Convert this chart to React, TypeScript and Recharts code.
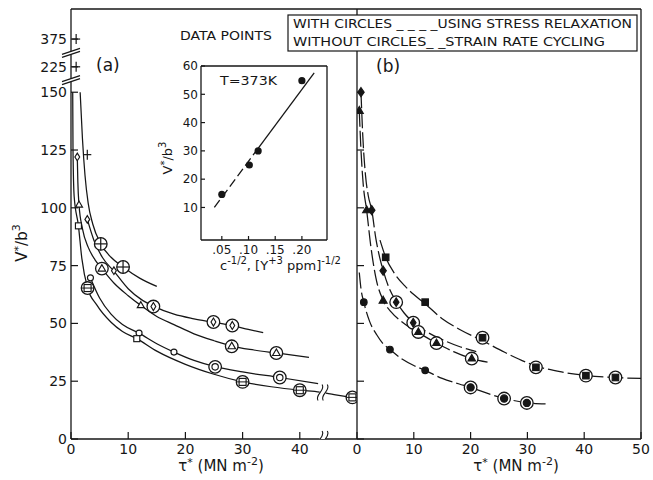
import React from 'react';
import { ComposedChart, Line, Scatter, XAxis, YAxis, ReferenceLine, ReferenceDot } from 'recharts';

const INK = '#161616';
const FONT = 'DejaVu Sans, sans-serif';

// ---------- tick labels ----------
const yTickValues = [0, 25, 50, 75, 100, 125, 150, 225, 375];
const yAxisBreaks = [186, 300];
const xTicksA = [0, 10, 20, 30, 40];
const xTicksB = [0, 10, 20, 30, 40, 50];
const insetXTicks = [0.05, 0.1, 0.15, 0.2];
const insetXTickLabels = ['.05', '.10', '.15', '.20'];
const insetYTicks = [10, 20, 30, 40, 50, 60];

// ---------- panel (a) curves ----------
const curveA1 = [[1.6, 150], [2.0, 130], [2.45, 114], [3.0, 102], [3.8, 93], [5.2, 84.4], [7, 78.6], [9.1, 74.4], [12, 69.6], [15, 66]];
const curveA2 = [[2.85, 95], [4, 86], [5.5, 78.5], [7.5, 72.6], [10, 65], [12.2, 60.5], [14.4, 57.5], [18, 54], [21.5, 52], [24.9, 50.5], [28.2, 49], [31, 47.4], [33.6, 46]];
const curveA3 = [[1.1, 122], [1.2, 111], [1.4, 101.3], [2, 91], [3, 83], [4.2, 77.5], [5.4, 73.7], [7.5, 67.5], [10, 62], [12.2, 57.8], [15, 53], [18, 49.5], [21.5, 45.5], [25, 42.5], [28.1, 40.2], [32, 38.5], [35.9, 37.2], [41.6, 35.3]];
const curveA4 = [[3.4, 69.7], [5, 61], [7, 54], [9, 49.5], [11.9, 45.8], [15, 41.2], [18, 37.6], [21.5, 34], [25.2, 31.3], [30, 29], [36.5, 26.6], [43.2, 24]];
const curveA5 = [[0.3, 150], [0.35, 125], [0.55, 105], [1.3, 92.2], [1.9, 78], [2.9, 65.3], [4.5, 58], [7, 50.5], [9, 46.5], [11.5, 43.4], [15, 38], [20, 32.3], [25, 28], [30, 24.7], [35, 22.6], [40, 21.1], [43.5, 20.3], [46, 19.2], [49, 18]];

// ---------- panel (a) points ----------
const aPlus = [[0.9, 375], [0.9, 225], [2.85, 123]];
const aCirclePlus = [[5.2, 84.4], [9.1, 74.4]];
const aDiamond = [[1.1, 122], [2.85, 95], [7.5, 72.8]];
const aCircleDiamond = [[14.4, 57.3], [24.9, 50.6], [28.2, 49.1]];
const aTriangle = [[1.4, 101.3], [12.2, 57.8]];
const aCircleTriangle = [[5.4, 73.7], [28.1, 40.1], [35.9, 37.2]];
const aDot = [[3.4, 69.7], [11.9, 45.8], [18, 37.6]];
const aCircleDot = [[25.2, 31.2], [36.5, 26.6]];
const aSquare = [[1.3, 92.2], [11.5, 43.4]];
const aCircleSquare = [[2.9, 65.3], [30, 24.7], [40, 21.1], [49.2, 18]];
const aXBreaks = [[44, 0], [44, 20.1]];

// ---------- panel (b) curves ----------
const curveB1 = [[4.05, 86], [5.05, 78.6], [6.5, 72], [8.5, 66], [10, 62.5], [12, 58.5], [15, 52], [18, 47.5], [22.1, 42.5], [26, 37.5], [31.5, 31.6], [36, 29], [40.3, 27.5], [45.5, 26.6], [50, 26.2]];
const curveB2 = [[0.7, 150], [1.0, 132], [1.5, 114], [2.0, 105], [2.6, 99], [3.3, 87], [4.0, 78.5], [4.6, 73], [5.7, 65], [6.9, 59.5], [8.3, 54.5], [9.9, 50.5], [12, 46.8], [15, 43], [18, 40], [21, 37.8]];
const curveB3 = [[0.4, 142], [0.7, 125], [1.1, 110], [1.7, 99], [2.4, 84], [3.3, 70], [4.6, 60], [6, 55], [8, 50.5], [10.8, 46], [14, 41.5], [17, 37.8], [20.2, 34.8], [23, 33.2]];
const curveB4 = [[0.4, 72], [0.7, 65], [1.2, 59.2], [2.2, 51], [3.5, 45], [4.5, 41.5], [5.8, 38.7], [8, 34.5], [10, 31.8], [12, 29.7], [15, 26.2], [18, 23.8], [20, 22.3], [23, 19.7], [25.9, 17.6], [29.9, 15.7], [33.2, 15.2]];

// ---------- panel (b) points ----------
const bTriangle = [[0.4, 142], [1.7, 99], [4.6, 59.9]];
const bDiamond = [[0.7, 150], [2.6, 99], [4.6, 72.8]];
const bSquare = [[5.05, 78.6], [12, 59.2]];
const bDot = [[1.2, 59.2], [5.8, 38.7], [12, 29.7]];
const bCircleDiamond = [[6.9, 59.2], [9.9, 50.3]];
const bCircleTriangle = [[10.8, 46.3], [14, 41.5], [20.2, 34.8]];
const bCircleSquare = [[22.1, 43.8], [31.5, 31], [40.3, 27.4], [45.5, 26.6]];
const bCircleDot = [[20, 22.3], [25.9, 17.5], [29.9, 15.6]];

// ---------- inset ----------
const insetPoints = [[0.05, 14.6], [0.1015, 25], [0.118, 30], [0.2, 54.8]];
const insetFitDashed = [[0.036, 10], [0.118, 30.9]];
const insetFitSolid = [[0.118, 30.9], [0.223, 57.6]];

// broken y axis: 150..225 and 225..375 compressed
const yBreak = (v: number) =>
  v <= 150 ? v : v <= 225 ? 150 + ((v - 150) * 11) / 75 : 161 + ((v - 225) * 12) / 150;
const toPts = (a: number[][]) => a.map(([x, y]) => ({ x, y: yBreak(y) }));
const toRaw = (a: number[][]) => a.map(([x, y]) => ({ x, y }));

const SW = 1.15;
const tri = (cx: number, cy: number, s: number, fill: string) => {
  const h = s * 0.866;
  return (
    <polygon
      points={`${cx},${cy - h * 0.62} ${cx - s / 2},${cy + h * 0.38} ${cx + s / 2},${cy + h * 0.38}`}
      fill={fill}
      stroke={INK}
      strokeWidth={SW}
    />
  );
};
const dia = (cx: number, cy: number, w: number, h: number, fill: string) => (
  <polygon points={`${cx},${cy - h} ${cx + w},${cy} ${cx},${cy + h} ${cx - w},${cy}`} fill={fill} stroke={INK} strokeWidth={SW} />
);
const sq = (cx: number, cy: number, s: number, fill: string) => (
  <rect x={cx - s / 2} y={cy - s / 2} width={s} height={s} fill={fill} stroke={INK} strokeWidth={SW} />
);
const circ = (cx: number, cy: number, r: number, fill: string) => (
  <circle cx={cx} cy={cy} r={r} fill={fill} stroke={INK} strokeWidth={SW} />
);
const ring = (cx: number, cy: number) => <circle cx={cx} cy={cy} r={6.3} fill="#fff" stroke={INK} strokeWidth={1.3} />;

const marker = (kind: string) => (props: any) => {
  const { cx, cy } = props;
  if (cx == null || cy == null) return <g />;
  switch (kind) {
    case 'plus':
      return (
        <g stroke={INK} strokeWidth={1.2}>
          <line x1={cx - 4} y1={cy} x2={cx + 4} y2={cy} />
          <line x1={cx} y1={cy - 5} x2={cx} y2={cy + 5} />
        </g>
      );
    case 'circlePlus':
      return (
        <g>
          {ring(cx, cy)}
          <g stroke={INK} strokeWidth={1.2}>
            <line x1={cx - 6.3} y1={cy} x2={cx + 6.3} y2={cy} />
            <line x1={cx} y1={cy - 6.3} x2={cx} y2={cy + 6.3} />
          </g>
        </g>
      );
    case 'diamond':
      return dia(cx, cy, 2.4, 3.8, '#fff');
    case 'circleDiamond':
      return <g>{ring(cx, cy)}{dia(cx, cy, 2.4, 4, '#fff')}</g>;
    case 'triangle':
      return tri(cx, cy, 7, '#fff');
    case 'circleTriangle':
      return <g>{ring(cx, cy)}{tri(cx, cy, 7.5, '#fff')}</g>;
    case 'dot':
      return circ(cx, cy, 3, '#fff');
    case 'circleDot':
      return <g>{ring(cx, cy)}{circ(cx, cy, 3.2, '#fff')}</g>;
    case 'square':
      return sq(cx, cy, 6, '#fff');
    case 'circleSquare':
      return (
        <g>
          {ring(cx, cy)}
          {sq(cx, cy, 7, '#fff')}
          <line x1={cx - 6.3} y1={cy} x2={cx + 6.3} y2={cy} stroke={INK} strokeWidth={1} />
        </g>
      );
    case 'fTriangle':
      return tri(cx, cy, 8, INK);
    case 'fDiamond':
      return dia(cx, cy, 3.2, 4.6, INK);
    case 'fSquare':
      return sq(cx, cy, 6.5, INK);
    case 'fCircle':
      return circ(cx, cy, 3.3, INK);
    case 'cfTriangle':
      return <g>{ring(cx, cy)}{tri(cx, cy, 7.5, INK)}</g>;
    case 'cfDiamond':
      return <g>{ring(cx, cy)}{dia(cx, cy, 2.8, 4.4, INK)}</g>;
    case 'cfSquare':
      return <g>{ring(cx, cy)}{sq(cx, cy, 6.5, INK)}</g>;
    case 'cfCircle':
      return <g>{ring(cx, cy)}{circ(cx, cy, 3.6, INK)}</g>;
    case 'insetDot':
      return <circle cx={cx} cy={cy} r={3.6} fill={INK} />;
    case 'yBreak':
      return (
        <g>
          <polygon points={`${cx - 9},${cy + 4.5} ${cx + 9},${cy - 1.5} ${cx + 9},${cy - 4.5} ${cx - 9},${cy + 1.5}`} fill="#fff" />
          <line x1={cx - 9} y1={cy + 4.5} x2={cx + 9} y2={cy - 1.5} stroke={INK} strokeWidth={1.3} />
          <line x1={cx - 9} y1={cy + 1.5} x2={cx + 9} y2={cy - 4.5} stroke={INK} strokeWidth={1.3} />
        </g>
      );
    case 'xBreak':
      return (
        <g>
          <rect x={cx - 3} y={cy - 4} width={6} height={8} fill="#fff" />
          {[-2.6, 2.6].map((o) => (
            <path
              key={o}
              d={`M ${cx + o - 2},${cy + 8} C ${cx + o - 6},${cy + 2} ${cx + o + 6},${cy - 2} ${cx + o + 2},${cy - 8}`}
              fill="none"
              stroke={INK}
              strokeWidth={1.1}
            />
          ))}
        </g>
      );
    default:
      return <g />;
  }
};

const tickStyle = { fill: INK, fontSize: 14, fontFamily: FONT };
const axisLine = { stroke: INK, strokeWidth: 1.3 };
const tickLine = { stroke: INK, strokeWidth: 1.2 };

const yLabel = (v: number) => {
  const i = yTickValues.findIndex((t) => Math.abs(yBreak(t) - v) < 0.01);
  return i >= 0 ? String(yTickValues[i]) : '';
};

const curve = (d: number[][], key: string, dash?: string) => (
  <Line
    key={key}
    data={toPts(d)}
    dataKey="y"
    type="monotone"
    dot={false}
    activeDot={false}
    stroke={INK}
    strokeWidth={1.25}
    strokeDasharray={dash}
    isAnimationActive={false}
  />
);
const pts = (d: number[][], kind: string, key: string) => (
  <Scatter key={key} data={toPts(d)} shape={marker(kind)} isAnimationActive={false} />
);

const abs: React.CSSProperties = { position: 'absolute', left: 0, top: 0 };

export default function App() {
  return (
    <div style={{ position: 'absolute', left: 0, top: 0, width: 653, height: 480, background: '#fff', overflow: 'hidden' }}>
      {/* panel (a) */}
      <div style={abs}>
        <ComposedChart width={653} height={480} margin={{ top: 9, right: 296, bottom: 0, left: 0 }}>
          <XAxis type="number" dataKey="x" domain={[0, 50]} ticks={xTicksA} interval={0} height={41} tickSize={-7} tickMargin={12} axisLine={axisLine} tickLine={tickLine} tick={tickStyle} allowDataOverflow />
          <YAxis type="number" dataKey="y" domain={[0, 186]} ticks={yTickValues.map(yBreak)} interval={0} tickFormatter={yLabel} width={71} tickSize={-7} tickMargin={11} axisLine={axisLine} tickLine={tickLine} tick={tickStyle} allowDataOverflow />
          <ReferenceLine y={186} stroke={INK} strokeWidth={1.3} />
          {curve(curveA1, 'a1')}
          {curve(curveA2, 'a2')}
          {curve(curveA3, 'a3')}
          {curve(curveA4, 'a4')}
          {curve(curveA5, 'a5')}
          {pts(aPlus, 'plus', 'p1')}
          {pts(aCirclePlus, 'circlePlus', 'p2')}
          {pts(aDiamond, 'diamond', 'p3')}
          {pts(aCircleDiamond, 'circleDiamond', 'p4')}
          {pts(aTriangle, 'triangle', 'p5')}
          {pts(aCircleTriangle, 'circleTriangle', 'p6')}
          {pts(aDot, 'dot', 'p7')}
          {pts(aCircleDot, 'circleDot', 'p8')}
          {pts(aSquare, 'square', 'p9')}
          {pts(aCircleSquare, 'circleSquare', 'p10')}
          {pts(aXBreaks, 'xBreak', 'p11')}
          {yAxisBreaks.map((v) => (
            <ReferenceDot key={'yb' + v} x={0} y={yBreak(v)} r={1} ifOverflow="visible" shape={marker('yBreak')} />
          ))}
        </ComposedChart>
      </div>

      {/* panel (b) */}
      <div style={abs}>
        <ComposedChart width={653} height={480} margin={{ top: 9, right: 12, bottom: 0, left: 0 }}>
          <XAxis type="number" dataKey="x" domain={[0, 50]} ticks={xTicksB} interval={0} height={41} tickSize={-7} tickMargin={12} axisLine={axisLine} tickLine={tickLine} tick={tickStyle} allowDataOverflow />
          <YAxis type="number" dataKey="y" domain={[0, 186]} ticks={yTickValues.slice(0, 7)} interval={0} tickFormatter={() => ''} width={357} tickSize={-7} axisLine={axisLine} tickLine={tickLine} tick={tickStyle} allowDataOverflow />
          <ReferenceLine y={186} stroke={INK} strokeWidth={1.3} />
          <ReferenceLine x={50} stroke={INK} strokeWidth={1.3} />
          {curve(curveB1, 'b1', '16 4')}
          {curve(curveB2, 'b2', '16 4')}
          {curve(curveB3, 'b3', '16 4')}
          {curve(curveB4, 'b4', '16 4')}
          {pts(bTriangle, 'fTriangle', 'q1')}
          {pts(bDiamond, 'fDiamond', 'q2')}
          {pts(bSquare, 'fSquare', 'q3')}
          {pts(bDot, 'fCircle', 'q4')}
          {pts(bCircleDiamond, 'cfDiamond', 'q5')}
          {pts(bCircleTriangle, 'cfTriangle', 'q6')}
          {pts(bCircleSquare, 'cfSquare', 'q7')}
          {pts(bCircleDot, 'cfCircle', 'q8')}
        </ComposedChart>
      </div>

      {/* inset */}
      <div style={abs}>
        <ComposedChart width={653} height={480} margin={{ top: 66, right: 326, bottom: 210, left: 161 }}>
          <XAxis type="number" dataKey="x" domain={[0.011, 0.247]} ticks={insetXTicks} interval={0} tickFormatter={(v: number) => insetXTickLabels[insetXTicks.findIndex((t) => Math.abs(t - v) < 1e-6)] ?? ''} height={30} tickSize={-4} tickMargin={9} axisLine={axisLine} tickLine={tickLine} tick={{ ...tickStyle, fontSize: 12 }} allowDataOverflow />
          <YAxis type="number" dataKey="y" domain={[-1.5, 60]} ticks={insetYTicks} interval={0} width={40} tickSize={-4} tickMargin={7} axisLine={axisLine} tickLine={tickLine} tick={{ ...tickStyle, fontSize: 12 }} allowDataOverflow />
          <ReferenceLine y={60} stroke={INK} strokeWidth={1.3} />
          <ReferenceLine x={0.247} stroke={INK} strokeWidth={1.3} />
          <Line data={toRaw(insetFitDashed)} dataKey="y" type="linear" dot={false} activeDot={false} stroke={INK} strokeWidth={1.3} strokeDasharray="9 4" isAnimationActive={false} />
          <Line data={toRaw(insetFitSolid)} dataKey="y" type="linear" dot={false} activeDot={false} stroke={INK} strokeWidth={1.3} isAnimationActive={false} />
          <Scatter data={toRaw(insetPoints)} shape={marker('insetDot')} isAnimationActive={false} />
        </ComposedChart>
      </div>

      {/* annotations */}
      <svg width={653} height={480} style={{ ...abs, pointerEvents: 'none' }} fontFamily={FONT} fill={INK}>
        <rect x={288} y={15} width={349} height={36} fill="#fff" stroke={INK} strokeWidth={1.2} />
        <text x={293} y={28} fontSize={13} textLength={339} lengthAdjust="spacingAndGlyphs">WITH CIRCLES _ _ _ _USING STRESS RELAXATION</text>
        <text x={293} y={46} fontSize={13} textLength={312} lengthAdjust="spacingAndGlyphs">WITHOUT CIRCLES_ _STRAIN RATE CYCLING</text>
        <text x={180} y={40} fontSize={12} textLength={92} lengthAdjust="spacingAndGlyphs">DATA POINTS</text>
        <text x={220} y={85} fontSize={12.5} textLength={57} lengthAdjust="spacingAndGlyphs">T=373K</text>
        <text x={96} y={71} fontSize={17}>(a)</text>
        <text x={376} y={72} fontSize={17}>(b)</text>
        <text transform="translate(27,243) rotate(-90)" textAnchor="middle" fontSize={15}>
          V<tspan dy={-5} fontSize={11}>*</tspan>
          <tspan dy={5}>/b</tspan>
          <tspan dy={-7} fontSize={11}>3</tspan>
        </text>
        <text transform="translate(172,158) rotate(-90)" textAnchor="middle" fontSize={13}>
          V<tspan dy={-4} fontSize={10}>*</tspan>
          <tspan dy={4}>/b</tspan>
          <tspan dy={-6} fontSize={10}>3</tspan>
        </text>
        <text x={220} y={270} fontSize={13}>
          c<tspan dy={-6} fontSize={10}>-1/2</tspan>
          <tspan dy={6}>, [Y</tspan>
          <tspan dy={-6} fontSize={10}>+3</tspan>
          <tspan dy={6}> ppm]</tspan>
          <tspan dy={-6} fontSize={10}>-1/2</tspan>
        </text>
        <text x={221} y={471} fontSize={15} textAnchor="middle">
          τ<tspan dy={-5} fontSize={11}>*</tspan>
          <tspan dy={5}> (MN m</tspan>
          <tspan dy={-6} fontSize={11}>-2</tspan>
          <tspan dy={6}>)</tspan>
        </text>
        <text x={516} y={471} fontSize={15} textAnchor="middle">
          τ<tspan dy={-5} fontSize={11}>*</tspan>
          <tspan dy={5}> (MN m</tspan>
          <tspan dy={-6} fontSize={11}>-2</tspan>
          <tspan dy={6}>)</tspan>
        </text>
      </svg>
    </div>
  );
}
